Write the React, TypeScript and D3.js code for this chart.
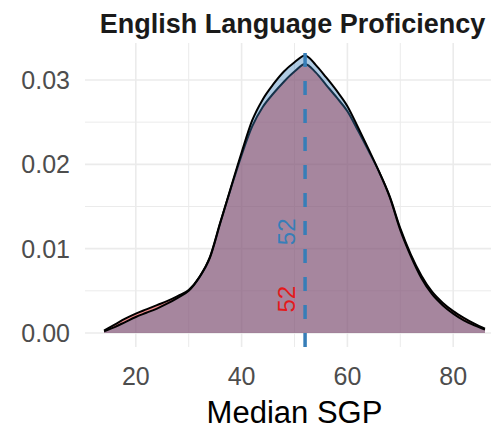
import React from "react";
import * as d3 from "d3";

const sgp = [14, 16, 18, 20, 22, 24, 26, 28, 30, 32, 34, 36, 38, 40, 42, 44, 46, 48, 50, 52, 54, 56, 58, 60, 62, 64, 66, 68, 70, 72, 74, 76, 78, 80, 82, 84, 86];
const densityRed = [0.0003, 0.0010, 0.0017, 0.0023, 0.0028, 0.0033, 0.0038, 0.0044, 0.0051, 0.0066, 0.0090, 0.0132, 0.0172, 0.0211, 0.0245, 0.0268, 0.0284, 0.0298, 0.0310, 0.0319, 0.0309, 0.0294, 0.0279, 0.0263, 0.0240, 0.0216, 0.0191, 0.0162, 0.0124, 0.0093, 0.0068, 0.0049, 0.0036, 0.0026, 0.0018, 0.0011, 0.0005];
const densityBlue = [0.0002, 0.0007, 0.0013, 0.0019, 0.0024, 0.0029, 0.0035, 0.0042, 0.0050, 0.0066, 0.0089, 0.0131, 0.0173, 0.0214, 0.0252, 0.0277, 0.0295, 0.0310, 0.0321, 0.0329, 0.0318, 0.0303, 0.0287, 0.0269, 0.0244, 0.0218, 0.0191, 0.0161, 0.0122, 0.0091, 0.0065, 0.0046, 0.0033, 0.0023, 0.0015, 0.0009, 0.0004];
const medianRed = 52;
const medianBlue = 52;
const xTicks = [20, 40, 60, 80];
const xMinor = [30, 50, 70];
const yTicks = [0, 0.01, 0.02, 0.03];
const yMinor = [0.005, 0.015, 0.025];
const title = "English Language Proficiency";
const xLabel = "Median SGP";

const RED = "#E41A1C";
const BLUE = "#377EB8";
const FONT = "'Liberation Sans', Arial, sans-serif";

export default function App() {
  const W = 491, H = 429;
  const left = 85, right = 504, top = 43, bottom = 347;
  const x = d3.scaleLinear().domain([10.4, 89.6]).range([left, right]);
  const y = d3.scaleLinear().domain([0, 0.03]).range([333, 80]);

  const redPts = sgp.map((v, i) => [v, densityRed[i]] as [number, number]);
  const bluePts = sgp.map((v, i) => [v, densityBlue[i]] as [number, number]);
  const area = d3.area<[number, number]>().x(d => x(d[0])).y0(y(0)).y1(d => y(d[1])).curve(d3.curveMonotoneX);
  const line = d3.line<[number, number]>().x(d => x(d[0])).y(d => y(d[1])).curve(d3.curveMonotoneX);

  const grid = "#EBEBEB";
  return (
    <svg width={W} height={H} style={{ display: "block", position: "absolute", left: 0, top: 0, background: "#fff" }}>
      <defs>
        <clipPath id="panel"><rect x={left} y={top} width={right - left} height={bottom - top} /></clipPath>
      </defs>
      <g clipPath="url(#panel)">
        {yMinor.map(t => <line key={"ym" + t} x1={left} x2={right} y1={y(t)} y2={y(t)} stroke={grid} strokeWidth={1} />)}
        {xMinor.map(t => <line key={"xm" + t} x1={x(t)} x2={x(t)} y1={top} y2={bottom} stroke={grid} strokeWidth={1} />)}
        {yTicks.map(t => <line key={"y" + t} x1={left} x2={right} y1={y(t)} y2={y(t)} stroke={grid} strokeWidth={1.6} />)}
        {xTicks.map(t => <line key={"x" + t} x1={x(t)} x2={x(t)} y1={top} y2={bottom} stroke={grid} strokeWidth={1.6} />)}
        <path d={area(redPts) || ""} fill={RED} fillOpacity={0.5} />
        <path d={line(redPts) || ""} fill="none" stroke="#000" strokeWidth={2} />
        <path d={area(bluePts) || ""} fill={BLUE} fillOpacity={0.4} />
        <path d={line(bluePts) || ""} fill="none" stroke="#000" strokeWidth={2} />
        <line x1={x(medianBlue)} x2={x(medianBlue)} y1={bottom} y2={top} stroke={BLUE} strokeWidth={3.5} strokeDasharray="14 14" />
        <text transform={`translate(${x(medianBlue - 3.5)},${y(0.012)}) rotate(-90)`} textAnchor="middle" dominantBaseline="central" fontFamily={FONT} fontSize={24} fill={BLUE}>{medianBlue}</text>
        <text transform={`translate(${x(medianRed - 3.5)},${y(0.004)}) rotate(-90)`} textAnchor="middle" dominantBaseline="central" fontFamily={FONT} fontSize={24} fill={RED}>{medianRed}</text>
      </g>
      {yTicks.map(t => (
        <text key={"yl" + t} x={70} y={y(t)} textAnchor="end" dominantBaseline="central" fontFamily={FONT} fontSize={25} fill="#4D4D4D">{d3.format(".2f")(t)}</text>
      ))}
      {xTicks.map(t => (
        <text key={"xl" + t} x={x(t)} y={385} textAnchor="middle" fontFamily={FONT} fontSize={25} fill="#4D4D4D">{t}</text>
      ))}
      <text x={(left + right) / 2} y={423} textAnchor="middle" fontFamily={FONT} fontSize={31} fill="#000">{xLabel}</text>
      <text x={(left + right) / 2 - 2} y={33} textAnchor="middle" fontFamily={FONT} fontSize={27} fontWeight="bold" fill="#1a1a1a">{title}</text>
    </svg>
  );
}
